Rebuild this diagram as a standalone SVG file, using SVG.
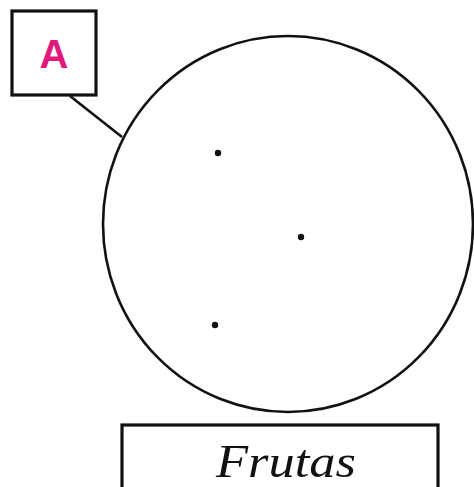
<svg xmlns="http://www.w3.org/2000/svg" width="474" height="487" viewBox="0 0 474 487">
<style>
.box{fill:#fff;stroke:#111;stroke-width:3.2}
.ln{stroke:#111;stroke-width:2.6;fill:none}
.dot{fill:#111}
</style>
<rect width="474" height="487" fill="#fff"/>
<g id="connectors">
<line class="ln" x1="70" y1="96" x2="122" y2="137"/>
</g>
<g id="set">
<ellipse class="ln" cx="288" cy="224" rx="185" ry="188"/>
<circle class="dot" cx="218" cy="153" r="3.2"/>
<circle class="dot" cx="301" cy="237" r="3.2"/>
<circle class="dot" cx="215" cy="325" r="3.2"/>
</g>
<g id="labelA">
<rect class="box" x="12" y="11" width="84" height="84"/>
<text x="54" y="68" text-anchor="middle" font-family="Liberation Sans, Arial, sans-serif" font-weight="bold" font-size="40" fill="#e0197a">A</text>
</g>
<g id="labelFrutas">
<rect class="box" x="122" y="425" width="316" height="70"/>
<text x="286" y="477" text-anchor="middle" font-family="Liberation Serif, serif" font-style="italic" font-size="46" textLength="140" lengthAdjust="spacingAndGlyphs" fill="#111">Frutas</text>
</g>
</svg>
